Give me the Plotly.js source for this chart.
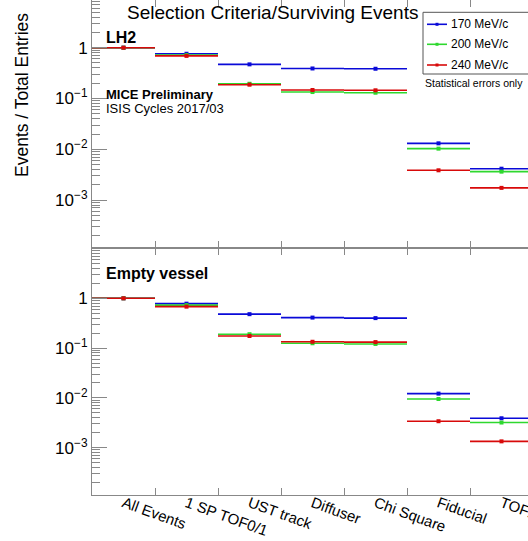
<!DOCTYPE html>
<html><head><meta charset="utf-8">
<script src="https://cdn.plot.ly/plotly-3.0.1.min.js"></script>
<style>html,body{margin:0;padding:0;background:#fff}#chart{width:528px;height:541px}</style>
</head><body><div id="chart"></div>
<script>
// ---- data ----
const categories = ['All Events', '1 SP TOF0/1', 'UST track', 'Diffuser', 'Chi Square', 'Fiducial', 'TOF2'];
const seriesNames = ['170 MeV/c', '200 MeV/c', '240 MeV/c'];
const lh2_170 = [1, 0.76, 0.47, 0.39, 0.385, 0.0131, 0.00415];
const lh2_200 = [1, 0.72, 0.195, 0.134, 0.130, 0.0103, 0.00363];
const lh2_240 = [1, 0.69, 0.187, 0.147, 0.145, 0.00386, 0.00174];
const ev_170 = [1, 0.78, 0.48, 0.41, 0.40, 0.0122, 0.0039];
const ev_200 = [1, 0.73, 0.19, 0.125, 0.121, 0.0095, 0.0032];
const ev_240 = [1, 0.68, 0.175, 0.134, 0.132, 0.0034, 0.00134];
const yTickVals = [0.001, 0.01, 0.1, 1];
const yTickText = ['10<sup>\u22123</sup>', '10<sup>\u22122</sup>', '10<sup>\u22121</sup>', '1'];

// ---- style ----
const colors = ['#0a0ad8', '#2ed82e', '#d80a0a'];
const FONT = 'Liberation Sans, Arial, Helvetica, sans-serif';
const AX = '#888';
const W = 528, H = 541, ML = 92, MB = 46, PW = W - ML, PH = H - MB;
const BINPX = 63;
const px = x => (x - ML) / PW;
const py = y => (PH - y) / PH;

const centers = categories.map((c, i) => i + 0.5);
const edges = categories.map((c, i) => i);
const minor = [];
for (let k = -5; k <= 0; k++) for (let m = 2; m <= 9; m++) minor.push(m * Math.pow(10, k));

function tr(y, color, name, xa, ya) {
  return {
    type: 'scatter', mode: 'markers', name: name, x: centers, y: y, xaxis: xa, yaxis: ya,
    marker: {symbol: 'square', size: 4, color: color},
    error_x: {type: 'constant', value: 0.5, width: 0, thickness: 1.6, color: color},
    showlegend: false
  };
}
const data = [
  tr(lh2_170, colors[0], seriesNames[0], 'x', 'y'),
  tr(lh2_200, colors[1], seriesNames[1], 'x', 'y'),
  tr(lh2_240, colors[2], seriesNames[2], 'x', 'y'),
  tr(ev_170, colors[0], seriesNames[0], 'x2', 'y2'),
  tr(ev_200, colors[1], seriesNames[1], 'x2', 'y2'),
  tr(ev_240, colors[2], seriesNames[2], 'x3', 'y2')
];

const xr = [0, PW / BINPX];
const split = 1 - 248 / PH;
function xEdgeAxis(anchor) {
  return {anchor: anchor, range: xr, tickvals: edges, ticks: 'inside', ticklen: 7, tickcolor: AX,
    showticklabels: false, showline: true, linecolor: AX, linewidth: 1, mirror: 'ticks',
    showgrid: false, zeroline: false, fixedrange: true};
}
function yAxis(domain, range) {
  return {domain: domain, type: 'log', range: range, tickvals: yTickVals, ticktext: yTickText,
    ticks: 'inside', ticklen: 15, tickcolor: AX, showline: true, linecolor: AX, linewidth: 1,
    mirror: false, showgrid: false, zeroline: false,
    minor: {tickmode: 'array', tickvals: minor, ticks: 'inside', ticklen: 8, tickcolor: AX, showgrid: false},
    tickfont: {family: FONT, size: 17, color: '#000'}};
}
const rTop = [-3.943, 0.939];
const rBot = [-3.95, 1.01];

const shapes = [
  {type: 'rect', xref: 'paper', yref: 'paper', x0: px(423), x1: px(560), y0: py(74), y1: py(12.3),
   line: {color: '#555', width: 1}, fillcolor: 'rgba(255,255,255,0)'}
];
const legY = [24.3, 44.3, 65];
const annotations = [
  {text: 'Selection Criteria/Surviving Events', x: px(272), y: py(13), xref: 'paper', yref: 'paper',
   showarrow: false, xanchor: 'center', yanchor: 'middle', font: {family: FONT, size: 19, color: '#000'}},
  {text: '<b>LH2</b>', x: px(104), y: py(37.5), xref: 'paper', yref: 'paper', showarrow: false,
   xanchor: 'left', yanchor: 'middle', font: {family: FONT, size: 16, color: '#000'}},
  {text: '<b>MICE Preliminary</b>', x: px(104), y: py(94.5), xref: 'paper', yref: 'paper', showarrow: false,
   xanchor: 'left', yanchor: 'middle', font: {family: FONT, size: 13, color: '#000'}},
  {text: 'ISIS Cycles 2017/03', x: px(104), y: py(108.5), xref: 'paper', yref: 'paper', showarrow: false,
   xanchor: 'left', yanchor: 'middle', font: {family: FONT, size: 13, color: '#000'}},
  {text: '<b>Empty vessel</b>', x: px(104), y: py(273), xref: 'paper', yref: 'paper', showarrow: false,
   xanchor: 'left', yanchor: 'middle', font: {family: FONT, size: 16, color: '#000'}},
  {text: 'Events / Total Entries', x: px(22), y: py(95), xref: 'paper', yref: 'paper', showarrow: false,
   textangle: -90, xanchor: 'center', yanchor: 'middle', font: {family: FONT, size: 17.5, color: '#000'}},
  {text: 'Statistical errors only', x: px(423), y: py(83), xref: 'paper', yref: 'paper', showarrow: false,
   xanchor: 'left', yanchor: 'middle', font: {family: FONT, size: 10.5, color: '#000'}}
];
seriesNames.forEach((n, i) => {
  shapes.push({type: 'line', xref: 'paper', yref: 'paper', x0: px(427), x1: px(447), y0: py(legY[i]), y1: py(legY[i]),
    line: {color: colors[i], width: 1.6}});
  shapes.push({type: 'rect', xref: 'paper', yref: 'paper', x0: px(435.5), x1: px(438.5), y0: py(legY[i] + 1.5), y1: py(legY[i] - 1.5),
    line: {width: 0}, fillcolor: colors[i]});
  annotations.push({text: n, x: px(449), y: py(legY[i]), xref: 'paper', yref: 'paper', showarrow: false,
    xanchor: 'left', yanchor: 'middle', font: {family: FONT, size: 12, color: '#000'}});
});

const layout = {
  width: W, height: H, margin: {l: ML, r: 0, t: 0, b: MB, pad: 0},
  paper_bgcolor: '#fff', plot_bgcolor: '#fff', showlegend: false,
  font: {family: FONT, color: '#000'},
  xaxis: xEdgeAxis('y'),
  xaxis2: xEdgeAxis('y2'),
  xaxis3: {overlaying: 'x2', anchor: 'y2', range: xr, tickvals: centers, ticktext: categories, ticks: '',
    tickangle: 20, showline: false, showgrid: false, zeroline: false, fixedrange: true,
    ticklabeloverflow: 'allow', ticklabelstandoff: -4,
    tickfont: {family: FONT, size: 15, color: '#000'}},
  yaxis: yAxis([split, 1], rTop),
  yaxis2: yAxis([0, split], rBot),
  shapes: shapes,
  annotations: annotations
};
Plotly.newPlot('chart', data, layout, {displayModeBar: false, staticPlot: true});
</script>
</body></html>
